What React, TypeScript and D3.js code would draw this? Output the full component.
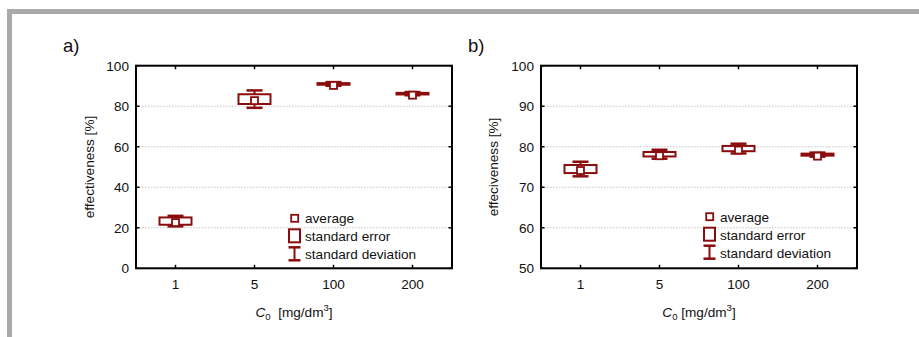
import React from "react";
import * as d3 from "d3";

const categories = ["1", "5", "100", "200"];

const meanA = [23.3, 83.5, 91.0, 86.2];
const seA = [1.8, 2.4, 0.4, 0.4];
const sdA = [2.6, 4.3, 0.9, 0.8];
const yTicksA = [0, 20, 40, 60, 80, 100];

const meanB = [74.5, 78.15, 79.55, 78.05];
const seB = [1.0, 0.55, 0.65, 0.25];
const sdB = [1.8, 1.1, 1.2, 0.5];
const yTicksB = [50, 60, 70, 80, 90, 100];

const legendLabels = ["average", "standard error", "standard deviation"];

const RED = "#8a0c0c";
const FONT = "'Liberation Sans', Arial, sans-serif";
const FS = 13.6;

type PanelProps = {
  left: number;
  label: string;
  yTitle: string;
  yTitleX: number;
  mean: number[];
  se: number[];
  sd: number[];
  ticks: number[];
  legendX: number;
  legendY: number;
  xTitleGap: string;
};

function Panel(p: PanelProps) {
  const x0 = p.left;
  const x1 = p.left + 316;
  const top = 65.7;
  const bottom = 268.3;
  const x = d3.scaleBand<string>().domain(categories).range([x0, x1]).padding(0);
  const y = d3
    .scaleLinear()
    .domain([p.ticks[0], p.ticks[p.ticks.length - 1]])
    .range([bottom, top]);
  const bw = x.bandwidth();
  const boxW = 32;
  const capW = 16;
  const cx = (c: string) => (x(c) as number) + bw / 2;
  const midX = (x0 + x1) / 2;
  const tl = 3.5;

  return (
    <g>
      <text x={p.left - 73} y={52} fontFamily={FONT} fontSize={18.5} fill="#111">
        {p.label}
      </text>
      {/* gridlines */}
      {p.ticks.slice(1, -1).map((t) => (
        <line
          key={"g" + t}
          x1={x0}
          x2={x1}
          y1={y(t)}
          y2={y(t)}
          stroke="#c4c4c4"
          strokeWidth={1}
          strokeDasharray="1.5,1.5"
        />
      ))}
      {/* ticks */}
      {p.ticks.map((t) => (
        <g key={"t" + t}>
          <line x1={x0} x2={x0 + tl} y1={y(t)} y2={y(t)} stroke="#000" strokeWidth={1.5} />
          <line x1={x1} x2={x1 - tl} y1={y(t)} y2={y(t)} stroke="#000" strokeWidth={1.5} />
          <text
            x={x0 - 7}
            y={y(t)}
            dy="0.36em"
            textAnchor="end"
            fontFamily={FONT}
            fontSize={FS}
            fill="#111"
          >
            {t}
          </text>
        </g>
      ))}
      {categories.map((c) => (
        <g key={"xt" + c}>
          <line x1={cx(c)} x2={cx(c)} y1={top} y2={top + tl} stroke="#000" strokeWidth={1.5} />
          <line x1={cx(c)} x2={cx(c)} y1={bottom} y2={bottom - tl} stroke="#000" strokeWidth={1.5} />
          <text
            x={cx(c)}
            y={289}
            textAnchor="middle"
            fontFamily={FONT}
            fontSize={FS}
            fill="#111"
          >
            {c}
          </text>
        </g>
      ))}
      {/* data */}
      {categories.map((c, i) => {
        const m = p.mean[i];
        const X = cx(c);
        const sdT = y(m + p.sd[i]);
        const sdB = y(m - p.sd[i]);
        const seT = y(m + p.se[i]);
        const seB = y(m - p.se[i]);
        return (
          <g key={"d" + c}>
            <line x1={X} x2={X} y1={sdT} y2={sdB} stroke={RED} strokeWidth={2} />
            <line x1={X - capW / 2} x2={X + capW / 2} y1={sdT} y2={sdT} stroke={RED} strokeWidth={2.5} />
            <line x1={X - capW / 2} x2={X + capW / 2} y1={sdB} y2={sdB} stroke={RED} strokeWidth={2.5} />
            <rect
              x={X - boxW / 2}
              y={seT}
              width={boxW}
              height={Math.max(seB - seT, 0.5)}
              fill="#fff"
              stroke={RED}
              strokeWidth={2}
            />
            <rect
              x={X - 3.5}
              y={y(m) - 3.5 + 1.5}
              width={7}
              height={7}
              fill="#fff"
              stroke={RED}
              strokeWidth={1.8}
            />
          </g>
        );
      })}
      {/* frame */}
      <rect x={x0} y={top} width={x1 - x0} height={bottom - top} fill="none" stroke="#000" strokeWidth={2} />
      {/* legend */}
      <g>
        <rect
          x={p.legendX - 10.3 - 3.5}
          y={p.legendY - 3.5}
          width={7}
          height={7}
          fill="#fff"
          stroke={RED}
          strokeWidth={1.8}
        />
        <rect
          x={p.legendX - 16}
          y={p.legendY + 11}
          width={11}
          height={13}
          fill="#fff"
          stroke={RED}
          strokeWidth={2}
        />
        <line x1={p.legendX - 10.5} x2={p.legendX - 10.5} y1={p.legendY + 29} y2={p.legendY + 42} stroke={RED} strokeWidth={2} />
        <line x1={p.legendX - 16.5} x2={p.legendX - 4.5} y1={p.legendY + 29} y2={p.legendY + 29} stroke={RED} strokeWidth={2.5} />
        <line x1={p.legendX - 16.5} x2={p.legendX - 4.5} y1={p.legendY + 42} y2={p.legendY + 42} stroke={RED} strokeWidth={2.5} />
        {legendLabels.map((l, i) => (
          <text
            key={l}
            x={p.legendX}
            y={p.legendY + i * 18}
            dy="0.36em"
            fontFamily={FONT}
            fontSize={FS}
            fill="#111"
          >
            {l}
          </text>
        ))}
      </g>
      {/* axis titles */}
      <text
        transform={`translate(${p.yTitleX},${(top + bottom) / 2}) rotate(-90)`}
        textAnchor="middle"
        dy="0.36em"
        fontFamily={FONT}
        fontSize={FS}
        fill="#111"
      >
        {p.yTitle}
      </text>
      <text x={midX} y={316.5} textAnchor="middle" fontFamily={FONT} fontSize={FS} fill="#111">
        <tspan fontStyle="italic">C</tspan>
        <tspan fontSize={9.5} dy={3}>0</tspan>
        <tspan dy={-3} xmlSpace="preserve">{p.xTitleGap + "[mg/dm"}</tspan>
        <tspan fontSize={9.5} dy={-6}>3</tspan>
        <tspan dy={6}>]</tspan>
      </text>
    </g>
  );
}

export default function App() {
  return (
    <div style={{ position: "absolute", left: 0, top: 0 }}>
      <svg width={919} height={337} style={{ display: "block", background: "#fff" }}>
        <rect x={0} y={0} width={919} height={337} fill="#fff" />
        <rect x={7} y={9} width={912} height={5} fill="#a9a9ab" />
        <rect x={7} y={9} width={5} height={328} fill="#a9a9ab" />
        <Panel
          left={136}
          label="a)"
          yTitle="effectiveness [%]"
          yTitleX={89}
          mean={meanA}
          se={seA}
          sd={sdA}
          ticks={yTicksA}
          legendX={305}
          legendY={218.3}
          xTitleGap={"\u00a0\u00a0"}
        />
        <Panel
          left={541}
          label="b)"
          yTitle="effeciveness [%]"
          yTitleX={493.3}
          mean={meanB}
          se={seB}
          sd={sdB}
          ticks={yTicksB}
          legendX={720}
          legendY={216.7}
          xTitleGap={"\u00a0"}
        />
      </svg>
    </div>
  );
}
